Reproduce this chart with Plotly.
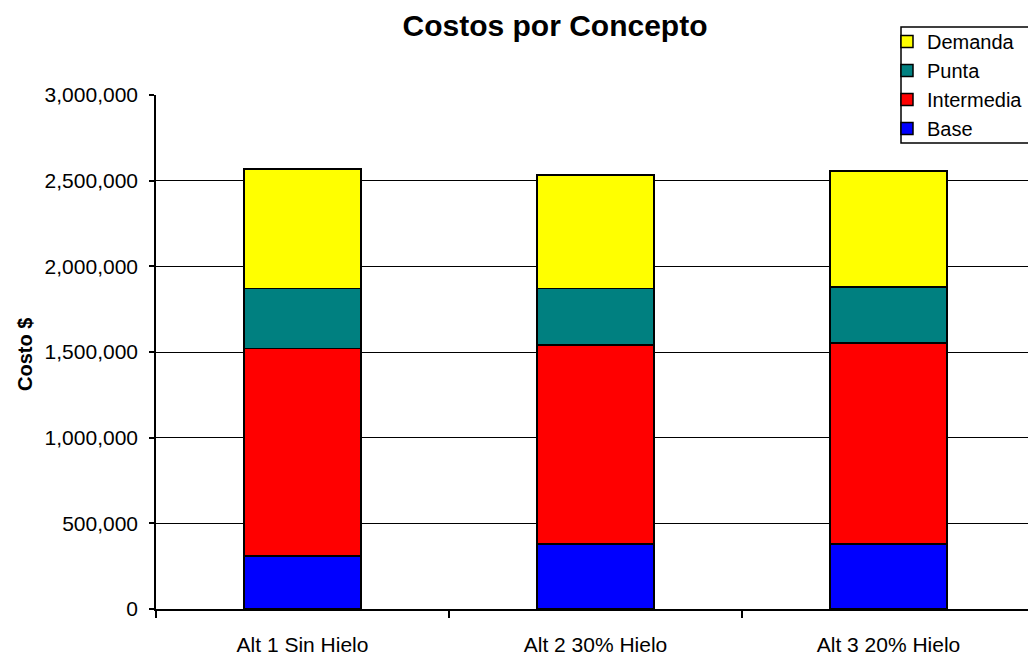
import plotly.graph_objects as go

categories = ["Alt 1 Sin Hielo", "Alt 2 30% Hielo", "Alt 3 20% Hielo"]
base = [308000, 380000, 380000]
intermedia = [1211000, 1162000, 1174000]
punta = [353000, 328000, 326000]
demanda = [697000, 663000, 677000]
y_ticks = [0, 500000, 1000000, 1500000, 2000000, 2500000, 3000000]

series = [
    ("Base", base, "#0000FF", 4),
    ("Intermedia", intermedia, "#FF0000", 3),
    ("Punta", punta, "#008080", 2),
    ("Demanda", demanda, "#FFFF00", 1),
]

FONT = "Liberation Sans, Arial, sans-serif"

fig = go.Figure()
for name, vals, color, rank in series:
    fig.add_trace(go.Bar(
        name=name, x=categories, y=vals, legendrank=rank,
        marker=dict(color=color, line=dict(color="black", width=1.5)),
    ))

W, H = 1028, 656
L, R, T, B = 156, 0, 95, 47
plot_w = W - L - R
plot_h = H - T - B

def px_x(p):
    return (p - L) / plot_w

def px_y(p):
    return (H - B - p) / plot_h

fig.update_layout(
    width=W, height=H,
    barmode="stack", bargap=0.6,
    paper_bgcolor="white", plot_bgcolor="white",
    margin=dict(l=L, r=R, t=T, b=B, autoexpand=False),
    font=dict(family=FONT, color="black", size=20),
    title=dict(text="<b>Costos por Concepto</b>", x=555 / W, xref="container", xanchor="center",
               y=1 - 25 / H, yref="container", yanchor="middle",
               font=dict(size=30, family=FONT, color="black")),
    showlegend=True,
    legend=dict(
        x=px_x(887), y=px_y(22), xanchor="left", yanchor="top",
        borderwidth=0, bgcolor="rgba(0,0,0,0)",
        traceorder="normal",
        font=dict(size=20, family=FONT, color="black"),
        itemwidth=30,
    ),
    xaxis=dict(
        range=[-0.5, -0.5 + plot_w / 293.0],
        showline=True, linecolor="black", linewidth=1.5,
        ticks="outside", tickson="boundaries", ticklen=7, tickcolor="black", tickwidth=1.5,
        showgrid=False, ticklabelstandoff=16,
        tickfont=dict(size=21, family=FONT, color="black"),
        fixedrange=True,
    ),
    yaxis=dict(
        range=[0, 3000000], tickvals=y_ticks, tickformat=",d",
        showline=True, linecolor="black", linewidth=1.5,
        ticks="outside", ticklen=5, tickcolor="black", tickwidth=1.5,
        showgrid=True, gridcolor="black", gridwidth=1,
        zeroline=False, ticklabelstandoff=7,
        tickfont=dict(size=21, family=FONT, color="black"),
        fixedrange=True,
    ),
    shapes=[dict(
        type="rect", xref="paper", yref="paper",
        x0=px_x(901), x1=px_x(1040), y0=px_y(143), y1=px_y(27),
        line=dict(color="black", width=1.5), fillcolor="white", layer="above",
    )],
    annotations=[dict(
        text="<b>Costo $</b>", textangle=-90, xref="paper", yref="paper",
        x=px_x(25), y=px_y(355), xanchor="center", yanchor="middle",
        showarrow=False, font=dict(size=20, family=FONT, color="black"),
    )],
)

fig.write_html("out.html")
